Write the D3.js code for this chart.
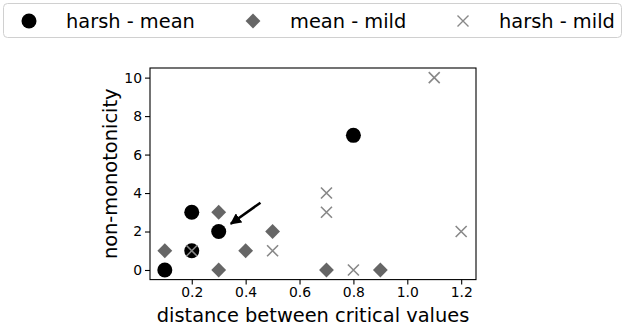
<!DOCTYPE html>
<html>
<head>
<meta charset="utf-8">
<script src="https://cdn.jsdelivr.net/npm/d3@7"></script>
<style>
  body { margin: 0; background: #fff; }
  text { font-family: "DejaVu Sans", sans-serif; }
</style>
</head>
<body>
<div id="chart"></div>
<script>
// Series values
const harshMean = [[0.1, 0], [0.2, 3], [0.2, 1], [0.3, 2], [0.8, 7]];
const meanMild = [[0.1, 1], [0.3, 3], [0.3, 0], [0.4, 1], [0.5, 2], [0.7, 0], [0.9, 0]];
const harshMild = [[0.2, 1], [0.5, 1], [0.7, 4], [0.7, 3], [0.8, 0], [1.1, 10], [1.2, 2]];
const seriesNames = ["harsh - mean", "mean - mild", "harsh - mild"];
const xTicks = [0.2, 0.4, 0.6, 0.8, 1.0, 1.2];
const yTicks = [0, 2, 4, 6, 8, 10];
const arrowFrom = [0.455, 3.5];
const arrowTo = [0.345, 2.4];

const W = 626, H = 328;
const box = {left: 150, right: 476, top: 68, bottom: 279.6};

const svg = d3.select("#chart").append("svg")
  .attr("width", W).attr("height", H);

const x = d3.scaleLinear().domain([0.045, 1.255]).range([box.left, box.right]);
const y = d3.scaleLinear().domain([-0.5, 10.5]).range([box.bottom, box.top]);

// axes
const xAxis = svg.append("g")
  .attr("transform", `translate(0,${box.bottom})`)
  .call(d3.axisBottom(x).tickValues(xTicks).tickFormat(d3.format(".1f")).tickSize(5).tickPadding(3));
const yAxis = svg.append("g")
  .attr("transform", `translate(${box.left},0)`)
  .call(d3.axisLeft(y).tickValues(yTicks).tickFormat(d3.format("d")).tickSize(5).tickPadding(3));
[xAxis, yAxis].forEach(a => {
  a.attr("font-size", null).attr("font-family", null);
  a.select(".domain").remove();
  a.selectAll("text").attr("fill", "#000")
    .style("font-size", "13.9px")
    .style("font-family", "'DejaVu Sans', sans-serif");
  a.selectAll("line").attr("stroke", "#000").attr("stroke-width", 1.1);
});
svg.append("rect")
  .attr("x", box.left).attr("y", box.top)
  .attr("width", box.right - box.left).attr("height", box.bottom - box.top)
  .attr("fill", "none").attr("stroke", "#000").attr("stroke-width", 1.1);

// markers
const circlePath = d3.symbol(d3.symbolCircle, 177)();
const diamondPath = d3.symbol(d3.symbolSquare, 110)();
const crossPath = "M-5.5,-5.5L5.5,5.5M-5.5,5.5L5.5,-5.5";

function drawSeries(data, path, fill, stroke, rotate) {
  svg.append("g").selectAll("path")
    .data(data)
    .join("path")
    .attr("d", path)
    .attr("transform", d => `translate(${x(d[0])},${y(d[1])})` + (rotate ? " rotate(45)" : ""))
    .attr("fill", fill)
    .attr("stroke", stroke)
    .attr("stroke-width", stroke === "none" ? 0 : 1.6);
}
drawSeries(harshMean, circlePath, "#000", "none", false);
drawSeries(meanMild, diamondPath, "#666", "none", true);
drawSeries(harshMild, crossPath, "none", "#888", false);

// arrow annotation
svg.append("defs").append("marker")
  .attr("id", "head").attr("viewBox", "0 0 10 10")
  .attr("refX", 9).attr("refY", 5)
  .attr("markerWidth", 4.5).attr("markerHeight", 4.5)
  .attr("orient", "auto")
  .append("path").attr("d", "M0,0L10,5L0,10z").attr("fill", "#000");
svg.append("line")
  .attr("x1", x(arrowFrom[0])).attr("y1", y(arrowFrom[1]))
  .attr("x2", x(arrowTo[0])).attr("y2", y(arrowTo[1]))
  .attr("stroke", "#000").attr("stroke-width", 2.5)
  .attr("marker-end", "url(#head)");

// axis labels
svg.append("text")
  .attr("x", (box.left + box.right) / 2).attr("y", 322)
  .attr("text-anchor", "middle").attr("font-size", 19.4)
  .text("distance between critical values");
svg.append("text")
  .attr("transform", `translate(117,${(box.top + box.bottom) / 2}) rotate(-90)`)
  .attr("text-anchor", "middle").attr("font-size", 19.4)
  .text("non-monotonicity");

// legend
svg.append("rect")
  .attr("x", 3.5).attr("y", 3.5).attr("width", 618).attr("height", 34)
  .attr("rx", 4).attr("fill", "#fff").attr("stroke", "#d0d0d0");
const legendItems = [
  {name: seriesNames[0], path: circlePath, fill: "#000", stroke: "none", rot: false, mx: 29, tx: 66},
  {name: seriesNames[1], path: diamondPath, fill: "#666", stroke: "none", rot: true, mx: 253, tx: 290},
  {name: seriesNames[2], path: crossPath, fill: "none", stroke: "#888", rot: false, mx: 463, tx: 499}
];
const lg = svg.append("g").selectAll("g").data(legendItems).join("g");
lg.append("path")
  .attr("d", d => d.path)
  .attr("transform", d => `translate(${d.mx},21)` + (d.rot ? " rotate(45)" : ""))
  .attr("fill", d => d.fill).attr("stroke", d => d.stroke)
  .attr("stroke-width", d => d.stroke === "none" ? 0 : 1.4);
lg.append("text")
  .attr("x", d => d.tx).attr("y", 27.5)
  .attr("font-size", 19.4)
  .text(d => d.name);
</script>
</body>
</html>
